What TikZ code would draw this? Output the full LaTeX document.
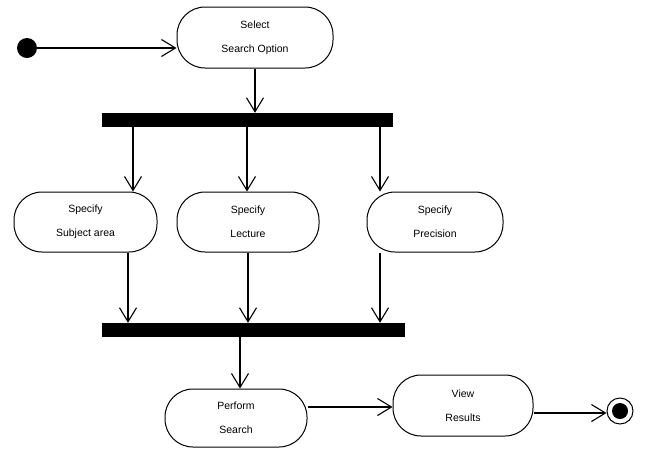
\documentclass[tikz,border=0pt]{standalone}
\usepackage{fontspec}
\setmainfont{Liberation Sans}
\usetikzlibrary{arrows.meta}
\begin{document}
\begin{tikzpicture}[x=1pt,y=-1pt,
  act/.style={draw, line width=1pt, rounded corners=28pt, align=center,
    inner sep=0pt, font=\fontsize{10.5}{24}\selectfont},
  bar/.style={fill=black, draw=none, inner sep=0pt},
  arr/.style={line width=1.3pt, -{Straight Barb[length=14pt,width=17pt,line width=1.1pt]}}]
\useasboundingbox (0,0) rectangle (645,448);
% start / end
\node[circle, fill=black, minimum size=20pt, inner sep=0pt] (start) at (27,48) {};
\node[circle, draw, line width=1pt, minimum size=26pt, inner sep=0pt] (end) at (620,411) {};
\node[circle, fill=black, minimum size=16pt, inner sep=0pt] (endin) at (620,411) {};
% activities
\node[act, minimum width=156pt, minimum height=61pt] (sel) at (255,37.5) {Select\\Search Option};
\node[act, minimum width=143pt, minimum height=60pt] (sub) at (85.5,222) {Specify\\Subject area};
\node[act, minimum width=142pt, minimum height=60pt] (lec) at (248,222) {Specify\\Lecture};
\node[act, minimum width=136pt, minimum height=60pt] (pre) at (435,222) {Specify\\Precision};
\node[act, minimum width=142pt, minimum height=58pt] (perf) at (236,418) {Perform\\Search};
\node[act, minimum width=140pt, minimum height=61pt] (view) at (463,405.5) {View\\Results};
% bars
\node[bar, minimum width=291pt, minimum height=14pt] (bar1) at (247.5,120) {};
\node[bar, minimum width=303pt, minimum height=14pt] (bar2) at (253.5,330) {};
% helper coordinates
\coordinate (a1) at (133,0);
\coordinate (a2) at (247,0);
\coordinate (a3) at (380,0);
\coordinate (b1) at (128,0);
\coordinate (b2) at (248,0);
\coordinate (b3) at (380,0);
\coordinate (c1) at (240,0);
\coordinate (d1) at (0,407);
\coordinate (e1) at (0,413);
% connectors
\draw[arr] (start.east) -- (start -| sel.west);
\draw[arr] (sel.south) -- (sel.south |- bar1.north);
\draw[arr] (bar1.south -| a1) -- (a1 |- sub.north);
\draw[arr] (bar1.south -| a2) -- (a2 |- lec.north);
\draw[arr] (bar1.south -| a3) -- (a3 |- pre.north);
\draw[arr] (b1 |- sub.south) -- (b1 |- bar2.north);
\draw[arr] (b2 |- lec.south) -- (b2 |- bar2.north);
\draw[arr] (b3 |- pre.south) -- (b3 |- bar2.north);
\draw[arr] (bar2.south -| c1) -- (c1 |- perf.north);
\draw[arr] (d1 -| perf.east) -- (d1 -| view.west);
\draw[arr] (e1 -| view.east) -- (e1 -| end.west);
\end{tikzpicture}
\end{document}
